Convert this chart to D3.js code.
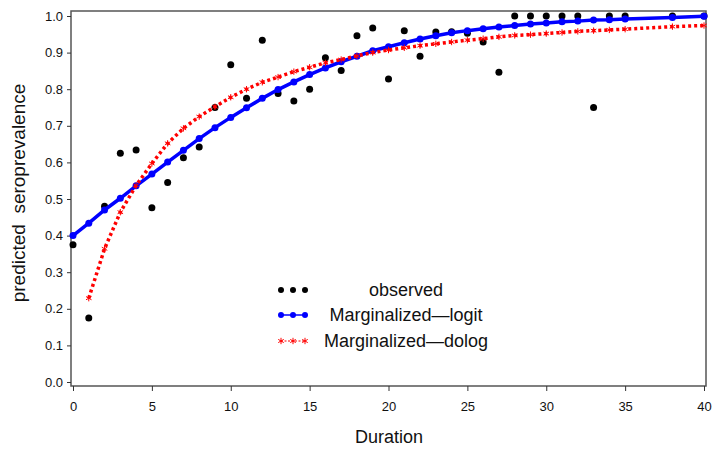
<!DOCTYPE html>
<html>
<head>
<meta charset="utf-8">
<script src="https://cdn.jsdelivr.net/npm/d3@7"></script>
<style>
  body { margin: 0; background: #fff; }
  text { font-family: "Liberation Sans", Arial, sans-serif; }
</style>
</head>
<body>
<svg class="chart"></svg>
<script>
// Seroprevalence by duration: observed vs two marginalized models

// Data
var durations = [0, 1, 2, 3, 4, 5, 6, 7, 8, 9, 10, 11, 12, 13, 14, 15, 16, 17, 18, 19,
    20, 21, 22, 23, 24, 25, 26, 27, 28, 29, 30, 31, 32, 33, 34, 35, 38, 40];
var observed = [0.375, 0.175, 0.48, 0.625, 0.634, 0.476, 0.545, 0.613, 0.642, 0.75,
    0.867, 0.775, 0.934, 0.788, 0.768, 0.80, 0.886, 0.851, 0.946, 0.967,
    0.828, 0.96, 0.89, 0.956, 0.957, 0.953, 0.929, 0.846, 1, 1,
    1, 1, 1, 0.75, 1, 1, 1, 1];
var logit = [0.40, 0.434, 0.47, 0.502, 0.536, 0.568, 0.601, 0.633, 0.665, 0.695,
    0.723, 0.749, 0.775, 0.799, 0.82, 0.84, 0.858, 0.875, 0.89, 0.905,
    0.916, 0.927, 0.937, 0.946, 0.954, 0.96, 0.965, 0.97, 0.974, 0.978,
    0.981, 0.984, 0.986, 0.989, 0.99, 0.992, 0.996, 0.999];
var cloglog = [null, 0.229, 0.364, 0.464, 0.537, 0.597, 0.652, 0.693, 0.725, 0.752,
    0.778, 0.80, 0.819, 0.833, 0.848, 0.86, 0.872, 0.881, 0.891, 0.9,
    0.907, 0.913, 0.919, 0.924, 0.929, 0.934, 0.938, 0.943, 0.947, 0.949,
    0.952, 0.955, 0.958, 0.96, 0.962, 0.964, 0.971, 0.974];
var xTicks = [0, 5, 10, 15, 20, 25, 30, 35, 40];
var yTicks = [0, 0.1, 0.2, 0.3, 0.4, 0.5, 0.6, 0.7, 0.8, 0.9, 1.0];
var legendLabels = ["observed", "Marginalized\u2014logit", "Marginalized\u2014dolog"];

var width = 712, height = 451;
var frame = { left: 71, right: 706, top: 11, bottom: 386 };

var svg = d3.select(".chart")
    .attr("width", width)
    .attr("height", height);

svg.append("rect")
    .attr("width", width)
    .attr("height", height)
    .attr("fill", "#fff");

// Scales
var x = d3.scaleLinear().domain([0, 40]).range([73, 704]);
var y = d3.scaleLinear().domain([0, 1]).range([382, 16]);

// Frame round the plot area
svg.append("rect")
    .attr("x", frame.left)
    .attr("y", frame.top)
    .attr("width", frame.right - frame.left)
    .attr("height", frame.bottom - frame.top)
    .attr("fill", "none")
    .attr("stroke", "#555")
    .attr("stroke-width", 1.5);

// Axes
var xAxis = d3.axisBottom(x)
    .tickValues(xTicks)
    .tickFormat(d3.format("d"))
    .tickSize(5)
    .tickPadding(11);
svg.append("g")
    .attr("class", "x axis")
    .attr("transform", "translate(0," + frame.bottom + ")")
    .call(xAxis);

var yAxis = d3.axisLeft(y)
    .tickValues(yTicks)
    .tickFormat(d3.format(".1f"))
    .tickSize(4)
    .tickPadding(4);
svg.append("g")
    .attr("class", "y axis")
    .attr("transform", "translate(" + frame.left + ",0)")
    .call(yAxis);

svg.selectAll(".axis .domain").remove();
svg.selectAll(".axis line").attr("stroke", "#333");
svg.selectAll(".axis text")
    .attr("fill", "#111")
    .style("font-size", "13px");

// Axis titles
svg.append("text")
    .attr("x", 389)
    .attr("y", 443)
    .style("text-anchor", "middle")
    .style("font-size", "18px")
    .attr("fill", "#111")
    .text("Duration");

svg.append("text")
    .attr("transform", "rotate(-90)")
    .attr("x", -193)
    .attr("y", 25)
    .style("text-anchor", "middle")
    .style("font-size", "19px")
    .style("white-space", "pre")
    .attr("fill", "#111")
    .text("predicted  seroprevalence");

// Build point rows
var rows = durations.map(function(d, i) {
    return { dur: d, obs: observed[i], logit: logit[i], cloglog: cloglog[i] };
});

// Observed points
svg.append("g").selectAll("circle")
    .data(rows)
    .enter().append("circle")
    .attr("cx", function(d) { return x(d.dur); })
    .attr("cy", function(d) { return y(d.obs); })
    .attr("r", 3.5)
    .attr("fill", "#000");

// Logit curve
var lineLogit = d3.line()
    .x(function(d) { return x(d.dur); })
    .y(function(d) { return y(d.logit); });
svg.append("path")
    .datum(rows)
    .attr("d", lineLogit)
    .attr("fill", "none")
    .attr("stroke", "#0000ff")
    .attr("stroke-width", 3.5);
svg.append("g").selectAll("circle")
    .data(rows)
    .enter().append("circle")
    .attr("cx", function(d) { return x(d.dur); })
    .attr("cy", function(d) { return y(d.logit); })
    .attr("r", 3.5)
    .attr("fill", "#0000ff");

// cloglog curve (dotted with star markers)
var cRows = rows.filter(function(d) { return d.cloglog != null; });
var lineClog = d3.line()
    .x(function(d) { return x(d.dur); })
    .y(function(d) { return y(d.cloglog); });
svg.append("path")
    .datum(cRows)
    .attr("d", lineClog)
    .attr("fill", "none")
    .attr("stroke", "#ff0000")
    .attr("stroke-width", 3.5)
    .attr("stroke-dasharray", "3,3");
var star = d3.symbol().type(d3.symbolAsterisk).size(28);
svg.append("g").selectAll("path")
    .data(cRows)
    .enter().append("path")
    .attr("d", star)
    .attr("transform", function(d) { return "translate(" + x(d.dur) + "," + y(d.cloglog) + ")"; })
    .attr("fill", "none")
    .attr("stroke", "#ff0000")
    .attr("stroke-width", 1);

// Legend
var legY = [290, 315, 341];
var legX = [281, 293, 305];
var legend = svg.append("g").attr("class", "legend");

legend.selectAll("circle.obs")
    .data(legX)
    .enter().append("circle")
    .attr("cx", function(d) { return d; })
    .attr("cy", legY[0])
    .attr("r", 3)
    .attr("fill", "#000");

legend.append("line")
    .attr("x1", legX[0]).attr("x2", legX[2])
    .attr("y1", legY[1]).attr("y2", legY[1])
    .attr("stroke", "#0000ff")
    .attr("stroke-width", 1.5);
legend.selectAll("circle.lg")
    .data(legX)
    .enter().append("circle")
    .attr("cx", function(d) { return d; })
    .attr("cy", legY[1])
    .attr("r", 3)
    .attr("fill", "#0000ff");

legend.append("line")
    .attr("x1", legX[0]).attr("x2", legX[2])
    .attr("y1", legY[2]).attr("y2", legY[2])
    .attr("stroke", "#ff0000")
    .attr("stroke-width", 1)
    .attr("stroke-dasharray", "2,1.5");
legend.selectAll("path.st")
    .data(legX)
    .enter().append("path")
    .attr("d", star)
    .attr("transform", function(d) { return "translate(" + d + "," + legY[2] + ")"; })
    .attr("fill", "none")
    .attr("stroke", "#ff0000")
    .attr("stroke-width", 1);

legend.selectAll("text")
    .data(legendLabels)
    .enter().append("text")
    .attr("x", 406)
    .attr("y", function(d, i) { return legY[i]; })
    .attr("dy", "0.35em")
    .style("text-anchor", "middle")
    .style("font-size", "18px")
    .attr("fill", "#111")
    .text(function(d) { return d; });
</script>
</body>
</html>
